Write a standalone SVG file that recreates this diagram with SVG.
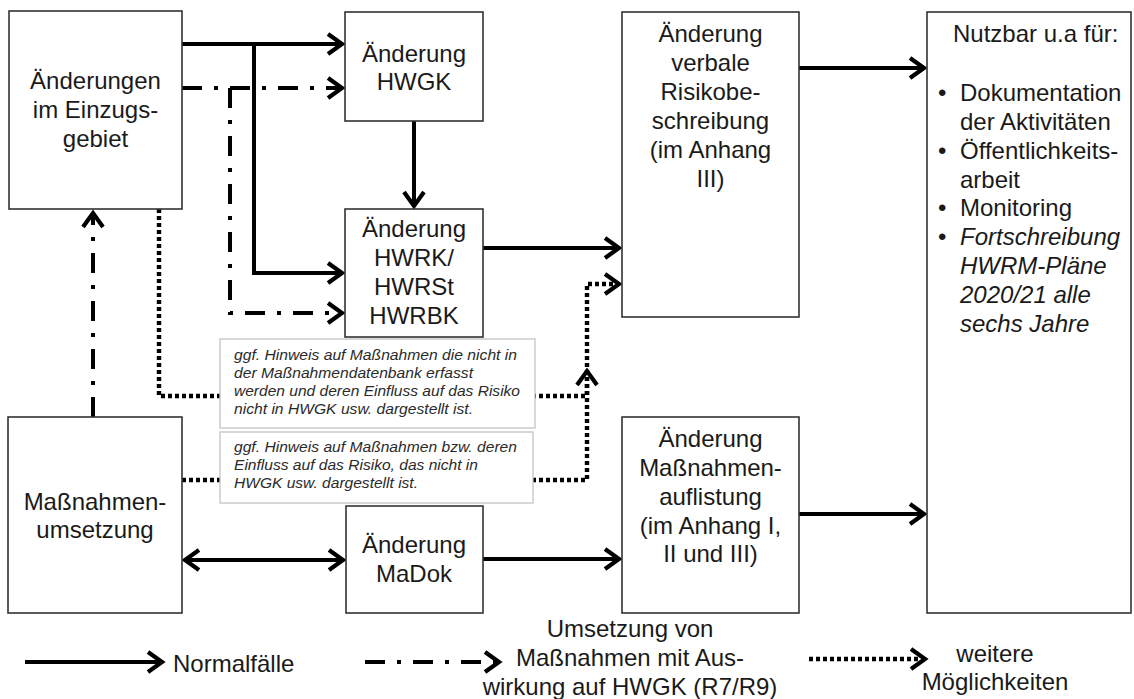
<svg xmlns="http://www.w3.org/2000/svg" width="1134" height="699" viewBox="0 0 1134 699">
<defs>
<style>
.box{fill:#fff;stroke:#333;stroke-width:1.6}
.note{fill:#fff;stroke:#c4c4c4;stroke-width:1.3}
.t{font-family:"Liberation Sans",Arial,sans-serif;font-size:24px;fill:#1a1a1a;text-anchor:middle}
.tl{font-family:"Liberation Sans",Arial,sans-serif;font-size:24px;fill:#1a1a1a}
.it{font-style:italic}
.n{font-family:"Liberation Sans",Arial,sans-serif;font-size:14px;font-style:italic;fill:#2a2a2a}
.solid{fill:none;stroke:#000;stroke-width:4}
.dd{fill:none;stroke:#000;stroke-width:4;stroke-dasharray:20 12 4 12}
.dot{fill:none;stroke:#000;stroke-width:4.4;stroke-dasharray:4 3}
</style>
<marker id="arr" markerUnits="userSpaceOnUse" markerWidth="24" markerHeight="28" viewBox="-18 -14 22 28" refX="0" refY="0" orient="auto-start-reverse">
<path d="M-14,-10 L0,0 L-14,10" fill="none" stroke="#000" stroke-width="4.2" stroke-dasharray="none" stroke-linejoin="miter"/>
</marker>
</defs>
<rect width="1134" height="699" fill="#fff"/>

<g id="connectors">
<path class="solid" d="M182,44 H342" marker-end="url(#arr)"/>
<path class="solid" d="M254,44 V273 H342" marker-end="url(#arr)"/>
<path class="solid" d="M414,121 V206" marker-end="url(#arr)"/>
<path class="solid" d="M483,248 H619" marker-end="url(#arr)"/>
<path class="solid" d="M799,68 H924" marker-end="url(#arr)"/>
<path class="solid" d="M483,559 H619" marker-end="url(#arr)"/>
<path class="solid" d="M799,514 H924" marker-end="url(#arr)"/>
<path class="solid" d="M185,560 H343" marker-start="url(#arr)" marker-end="url(#arr)"/>
<path class="dd" d="M182,88 H342" marker-end="url(#arr)"/>
<path class="dd" d="M230,88 V313 H342" marker-end="url(#arr)"/>
<path class="dd" d="M93,417 V213" marker-end="url(#arr)"/>
<path class="dot" d="M159,209 V396 H587 V284 H619" marker-end="url(#arr)"/>
<path class="dot" d="M182,480 H587 V371" marker-end="url(#arr)"/>
</g>

<g id="node-einzugsgebiet">
<rect class="box" x="9" y="11" width="173" height="198"/>
<text class="t" x="95.5" y="89">Änderungen</text>
<text class="t" x="95.5" y="118">im Einzugs-</text>
<text class="t" x="95.5" y="147">gebiet</text>
</g>

<g id="node-hwgk">
<rect class="box" x="345" y="12" width="138" height="109"/>
<text class="t" x="414" y="62">Änderung</text>
<text class="t" x="414" y="90">HWGK</text>
</g>

<g id="node-hwrk">
<rect class="box" x="345" y="209" width="138" height="128"/>
<text class="t" x="414" y="237">Änderung</text>
<text class="t" x="414" y="266">HWRK/</text>
<text class="t" x="414" y="295">HWRSt</text>
<text class="t" x="414" y="324">HWRBK</text>
</g>

<g id="node-risiko">
<rect class="box" x="622" y="12" width="177" height="305"/>
<text class="t" x="710.5" y="42">Änderung</text>
<text class="t" x="710.5" y="71">verbale</text>
<text class="t" x="710.5" y="100">Risikobe-</text>
<text class="t" x="710.5" y="129">schreibung</text>
<text class="t" x="710.5" y="158">(im Anhang</text>
<text class="t" x="710.5" y="187">III)</text>
</g>

<g id="node-nutzbar">
<rect class="box" x="927" y="12" width="204" height="601"/>
<text class="tl" x="953" y="42">Nutzbar u.a für:</text>
<text class="tl" x="938" y="101">•</text>
<text class="tl" x="960" y="101">Dokumentation</text>
<text class="tl" x="960" y="130">der Aktivitäten</text>
<text class="tl" x="938" y="159">•</text>
<text class="tl" x="960" y="159">Öffentlichkeits-</text>
<text class="tl" x="960" y="188">arbeit</text>
<text class="tl" x="938" y="216">•</text>
<text class="tl" x="960" y="216">Monitoring</text>
<text class="tl" x="938" y="245">•</text>
<text class="tl it" x="960" y="245">Fortschreibung</text>
<text class="tl it" x="960" y="274">HWRM-Pläne</text>
<text class="tl it" x="960" y="303">2020/21 alle</text>
<text class="tl it" x="960" y="332">sechs Jahre</text>
</g>

<g id="node-massnahmen">
<rect class="box" x="8" y="417" width="174" height="196"/>
<text class="t" x="95" y="510">Maßnahmen-</text>
<text class="t" x="95" y="538">umsetzung</text>
</g>

<g id="node-madok">
<rect class="box" x="346" y="506" width="137" height="107"/>
<text class="t" x="414" y="553">Änderung</text>
<text class="t" x="414" y="582">MaDok</text>
</g>

<g id="node-auflistung">
<rect class="box" x="622" y="417" width="177" height="196"/>
<text class="t" x="710.5" y="447">Änderung</text>
<text class="t" x="710.5" y="476">Maßnahmen-</text>
<text class="t" x="710.5" y="505">auflistung</text>
<text class="t" x="710.5" y="534">(im Anhang I,</text>
<text class="t" x="710.5" y="562">II und III)</text>
</g>

<g id="note-1">
<rect class="note" x="220" y="339" width="315" height="89"/>
<text class="n" x="234" y="360" textLength="283" lengthAdjust="spacingAndGlyphs">ggf. Hinweis auf Maßnahmen die nicht in</text>
<text class="n" x="234" y="378" textLength="239" lengthAdjust="spacingAndGlyphs">der Maßnahmendatenbank erfasst</text>
<text class="n" x="234" y="396" textLength="286" lengthAdjust="spacingAndGlyphs">werden und deren Einfluss auf das Risiko</text>
<text class="n" x="234" y="414" textLength="239" lengthAdjust="spacingAndGlyphs">nicht in HWGK usw. dargestellt ist.</text>
</g>

<g id="note-2">
<rect class="note" x="220" y="432" width="313" height="71"/>
<text class="n" x="234" y="452" textLength="283" lengthAdjust="spacingAndGlyphs">ggf. Hinweis auf Maßnahmen bzw. deren</text>
<text class="n" x="234" y="470" textLength="244" lengthAdjust="spacingAndGlyphs">Einfluss auf das Risiko, das nicht in</text>
<text class="n" x="234" y="488" textLength="184" lengthAdjust="spacingAndGlyphs">HWGK usw. dargestellt ist.</text>
</g>

<g id="legend">
<path class="solid" d="M25,662 H162" marker-end="url(#arr)"/>
<text class="tl" x="173" y="672">Normalfälle</text>
<path class="dd" d="M365,662 H499" marker-end="url(#arr)"/>
<text class="t" x="630" y="637">Umsetzung von</text>
<text class="t" x="630" y="666">Maßnahmen mit Aus-</text>
<text class="t" x="630" y="695">wirkung auf HWGK (R7/R9)</text>
<path class="dot" d="M809,659 H925" marker-end="url(#arr)"/>
<text class="t" x="995" y="662">weitere</text>
<text class="t" x="995" y="690">Möglichkeiten</text>
</g>
</svg>
